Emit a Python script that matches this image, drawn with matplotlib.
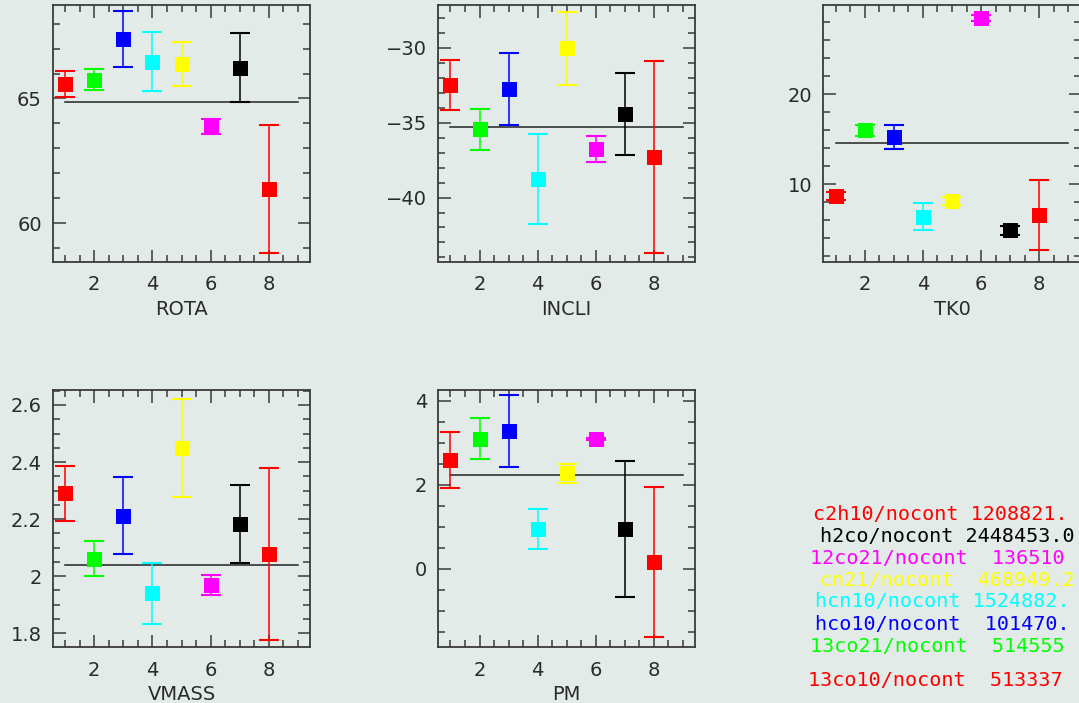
import matplotlib
matplotlib.use("Agg")
import matplotlib.pyplot as plt
from matplotlib.ticker import MultipleLocator, FuncFormatter
import numpy as np

# ---------------- data ----------------
x_index = [1, 2, 3, 4, 5, 6, 7, 8]
point_colors = ["#ff0000", "#00ff00", "#0000ff", "#00ffff",
                "#ffff00", "#ff00ff", "#000000", "#ff0000"]

rota_val = [65.57, 65.76, 67.38, 66.48, 66.40, 63.86, 66.24, 61.38]
rota_err = [0.52, 0.42, 1.13, 1.20, 0.88, 0.30, 1.39, 2.56]
rota_mean = 64.86

incli_val = [-32.49, -35.44, -32.73, -38.77, -30.04, -36.77, -34.43, -37.29]
incli_err = [1.69, 1.37, 2.40, 2.98, 2.45, 0.89, 2.71, 6.43]
incli_mean = -35.29

tk0_val = [8.70, 16.00, 15.29, 6.40, 8.13, 28.44, 4.89, 6.62]
tk0_err = [0.44, 0.63, 1.33, 1.48, 0.43, 0.33, 0.48, 3.89]
tk0_mean = 14.56

vmass_val = [2.290, 2.062, 2.212, 1.940, 2.449, 1.969, 2.183, 2.078]
vmass_err = [0.095, 0.062, 0.135, 0.108, 0.172, 0.036, 0.137, 0.301]
vmass_mean = 2.041

pm_val = [2.59, 3.09, 3.27, 0.95, 2.27, 3.09, 0.94, 0.17]
pm_err = [0.67, 0.49, 0.86, 0.48, 0.22, 0.02, 1.62, 1.78]
pm_mean = 2.23

panel_names = ["ROTA", "INCLI", "TK0", "VMASS", "PM"]

legend_labels = ["c2h10/nocont 1208821.", "h2co/nocont 2448453.0",
                 "12co21/nocont  136510", "cn21/nocont  468949.2",
                 "hcn10/nocont 1524882.", "hco10/nocont  101470.",
                 "13co21/nocont  514555", "13co10/nocont  513337"]
legend_colors = ["#ff0000", "#000000", "#ff00ff", "#ffff00",
                 "#00ffff", "#0000ff", "#00ff00", "#ff0000"]

# ---------------- layout ----------------
W, H = 1079, 703
BG = "#e3ebe8"
AXC = "#3a3a3a"
TXT = "#2a2a2a"
fig = plt.figure(figsize=(W / 100, H / 100), dpi=100, facecolor=BG)

def px_axes(l, t, r, b):
    return fig.add_axes([l / W, 1 - b / H, (r - l) / W, (b - t) / H])

def fmt_tick(v, pos):
    s = "%g" % round(v, 6)
    return s.replace("-", "\u2212")

panels = [
    dict(box=(53, 5, 310, 261.5), val=rota_val, err=rota_err, mean=rota_mean,
         ylim=(58.46, 68.75), major=5, minor=1),
    dict(box=(438.3, 5, 695, 261.5), val=incli_val, err=incli_err, mean=incli_mean,
         ylim=(-44.27, -27.15), major=5, minor=1),
    dict(box=(823.3, 5, 1080.6, 261.5), val=tk0_val, err=tk0_err, mean=tk0_mean,
         ylim=(1.41, 29.92), major=10, minor=2),
    dict(box=(53, 390, 310, 646.7), val=vmass_val, err=vmass_err, mean=vmass_mean,
         ylim=(1.753, 2.6525), major=0.2, minor=0.05),
    dict(box=(438.3, 390, 695, 646.7), val=pm_val, err=pm_err, mean=pm_mean,
         ylim=(-1.85, 4.25), major=2, minor=0.5),
]

for name, p in zip(panel_names, panels):
    ax = px_axes(*p["box"])
    ax.set_facecolor(BG)
    ax.set_xlim(0.58, 9.42)
    ax.set_ylim(*p["ylim"])
    for xi, v, e, c in zip(x_index, p["val"], p["err"], point_colors):
        ax.errorbar([xi], [v], yerr=[e], fmt="none", ecolor=c,
                    elinewidth=1.1, capsize=7.2, capthick=1.5, zorder=3)
        ax.plot([xi], [v], marker="s", linestyle="none", color=c,
                markersize=10.8, markeredgewidth=0, zorder=4)
    ax.plot([x_index[0], x_index[-1] + 1], [p["mean"], p["mean"]],
            color="#222222", lw=1.1, zorder=2)
    ax.xaxis.set_major_locator(MultipleLocator(2))
    ax.xaxis.set_minor_locator(MultipleLocator(0.5))
    ax.yaxis.set_major_locator(MultipleLocator(p["major"]))
    ax.yaxis.set_minor_locator(MultipleLocator(p["minor"]))
    ax.yaxis.set_major_formatter(FuncFormatter(fmt_tick))
    ax.xaxis.set_major_formatter(FuncFormatter(fmt_tick))
    ax.tick_params(which="both", direction="in", top=True, right=True,
                   color=AXC, labelcolor=TXT, labelsize=14)
    ax.tick_params(which="major", length=9, width=1.1)
    ax.tick_params(which="minor", length=5, width=1.1)
    ax.tick_params(axis="x", which="major", pad=10)
    ax.tick_params(axis="y", which="major", pad=8)
    for s in ax.spines.values():
        s.set_color(AXC)
        s.set_linewidth(1.3)
    ax.set_xlabel(name, fontsize=14, color=TXT, labelpad=4)

# legend-like text block
legend_x_px = [813, 820, 810, 820, 815, 815, 810, 808]
legend_y_px = [514, 536, 558, 580, 601.7, 624, 646, 680]
for lab, col, lx, ly in zip(legend_labels, legend_colors, legend_x_px, legend_y_px):
    fig.text(lx / W, 1 - ly / H, lab, color=col, ha="left", va="center",
             family="DejaVu Sans Mono", fontsize=14.5)

fig.savefig("out.png", dpi=100, facecolor=BG)
